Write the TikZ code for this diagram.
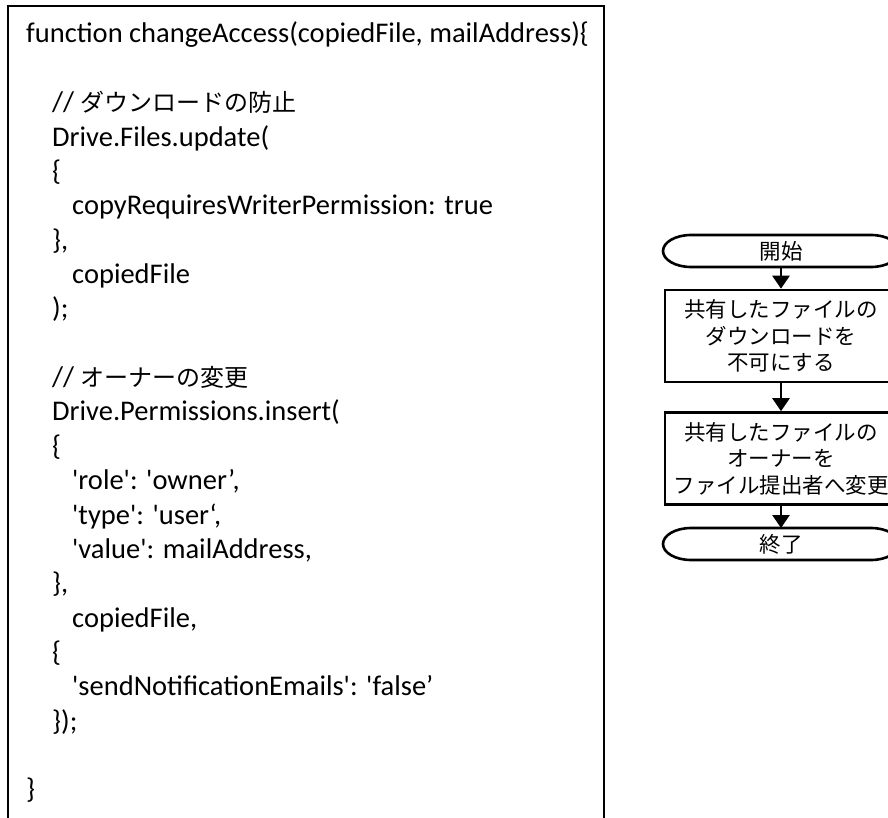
\documentclass[tikz,border=0pt]{standalone}
\usepackage{fontspec}
\newfontfamily\codefont{Carlito}
\newfontfamily\jpfont{Noto Sans CJK JP}
\usetikzlibrary{arrows.meta}
\begin{document}
\begin{tikzpicture}[x=1pt,y=-1pt,
  codebox/.style={draw, line width=1.6pt, outer sep=0pt, inner sep=0pt, anchor=north west,
    minimum width=596pt, minimum height=830pt},
  codeline/.style={anchor=base west, inner sep=0pt, font=\codefont\fontsize{28.5}{34}\selectfont},
  jp/.style={font=\jpfont\fontsize{21.5}{26.5}\selectfont},
  fcbox/.style={jp, draw, line width=2.6pt, minimum width=232pt, minimum height=92pt,
    align=center, inner sep=0pt},
  termtext/.style={jp, minimum width=236pt, minimum height=32pt, inner sep=0pt, outer sep=0pt},
  termline/.style={line width=2.6pt},
  arr/.style={line width=2.6pt, -{Triangle[width=17pt,length=13pt]}}
]
\useasboundingbox (0,0) rectangle (888,818);
\fill[white] (0,0) rectangle (888,818);
\clip (0,0) rectangle (888,818);

% code panel
\node[codebox] (code) at (8,6) {};
\node[codeline] (l0)  at (26,{43+34.36*0})  {function changeAccess(copiedFile, mailAddress)\{};
\node[codeline] (l2)  at (52,{43+34.36*2})  {// {\jpfont\fontsize{24}{34}\selectfont ダウンロードの防止}};
\node[codeline] (l3)  at (52,{43+34.36*3})  {Drive.Files.update(};
\node[codeline] (l4)  at (52,{43+34.36*4})  {\{};
\node[codeline] (l5)  at (72,{43+34.36*5})  {copyRequiresWriterPermission: true};
\node[codeline] (l6)  at (52,{43+34.36*6})  {\},};
\node[codeline] (l7)  at (72,{43+34.36*7})  {copiedFile};
\node[codeline] (l8)  at (52,{43+34.36*8})  {);};
\node[codeline] (l10) at (52,{43+34.36*10}) {// {\jpfont\fontsize{24}{34}\selectfont オーナーの変更}};
\node[codeline] (l11) at (52,{43+34.36*11}) {Drive.Permissions.insert(};
\node[codeline] (l12) at (52,{43+34.36*12}) {\{};
\node[codeline] (l13) at (72,{43+34.36*13}) {'role': 'owner’,};
\node[codeline] (l14) at (72,{43+34.36*14}) {'type': 'user‘,};
\node[codeline] (l15) at (72,{43+34.36*15}) {'value': mailAddress,};
\node[codeline] (l16) at (52,{43+34.36*16}) {\},};
\node[codeline] (l17) at (72,{43+34.36*17}) {copiedFile,};
\node[codeline] (l18) at (52,{43+34.36*18}) {\{};
\node[codeline] (l19) at (72,{43+34.36*19}) {'sendNotificationEmails': 'false’};
\node[codeline] (l20) at (52,{43+34.36*20}) {\});};
\node[codeline] (l22) at (26,{43+34.36*22}) {\}};

% flowchart
\node[termtext] (start) at (781,251) {開始};
\draw[termline] ([xshift=28pt]start.north west) -- ([xshift=-28pt]start.north east)
  arc[start angle=90,end angle=-90,x radius=28pt,y radius=16pt]
  -- ([xshift=28pt]start.south west)
  arc[start angle=270,end angle=90,x radius=28pt,y radius=16pt] -- cycle;
\node[fcbox] (b1) at (781,336) {共有したファイルの\\ダウンロードを\\不可にする};
\node[fcbox] (b2) at (781,458.5) {共有したファイルの\\オーナーを\\ファイル提出者へ変更};
\node[termtext] (stop) at (781,544) {終了};
\draw[termline] ([xshift=28pt]stop.north west) -- ([xshift=-28pt]stop.north east)
  arc[start angle=90,end angle=-90,x radius=28pt,y radius=16pt]
  -- ([xshift=28pt]stop.south west)
  arc[start angle=270,end angle=90,x radius=28pt,y radius=16pt] -- cycle;

\draw[arr] (start.south) -- (b1.north);
\draw[arr] (b1.south) -- (b2.north);
\draw[arr] (b2.south) -- (stop.north);
\end{tikzpicture}
\end{document}
